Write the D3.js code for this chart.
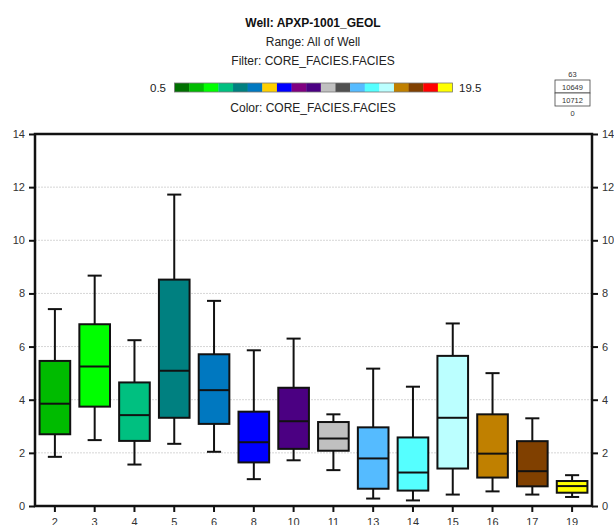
<!DOCTYPE html>
<html><head><meta charset="utf-8">
<script src="https://cdn.jsdelivr.net/npm/d3@7"></script>
<style>body{margin:0;background:#fff;}svg{display:block;font-family:"Liberation Sans",Arial,sans-serif;}</style>
</head><body><svg id="c" width="614" height="525"></svg>
<script>
const categories = ["2","3","4","5","6","8","10","11","13","14","15","16","17","19"];
const whiskerLow = [1.85,2.48,1.56,2.34,2.04,1.01,1.72,1.35,0.28,0.21,0.43,0.55,0.43,0.34];
const q1 =         [2.70,3.74,2.45,3.32,3.09,1.64,2.15,2.08,0.65,0.58,1.41,1.07,0.74,0.50];
const median =     [3.85,5.25,3.42,5.09,4.36,2.40,3.19,2.54,1.79,1.26,3.32,1.97,1.31,0.75];
const q3 =         [5.46,6.84,4.65,8.52,5.71,3.55,4.45,3.16,2.96,2.58,5.65,3.45,2.44,0.94];
const whiskerHigh =[7.41,8.67,6.24,11.72,7.72,5.86,6.30,3.45,5.17,4.49,6.87,5.00,3.30,1.16];
const yTicks = [0,2,4,6,8,10,12,14];
const faciesCodes = [1,2,3,4,5,6,7,8,9,10,11,12,13,14,15,16,17,18,19];
const faciesColors = ["#007000","#00bb00","#00ff00","#00c080","#008080","#0078c0","#ffd000","#0000ff","#800080","#4b0082","#c0c0c0","#505050","#55bbff","#55ffff","#bbffff","#c08000","#804000","#ff0000","#ffff00"];
const titleLines = ["Well: APXP-1001_GEOL","Range: All of Well","Filter: CORE_FACIES.FACIES"];
const colorLabel = "Color: CORE_FACIES.FACIES";
const barRange = ["0.5","19.5"];
const countBox = {top:"63", a:"10649", b:"10712", bottom:"0"};

const svg = d3.select("#c");
const L = 35, R = 592, T = 134, B = 506;
const x = d3.scaleBand().domain(categories).range([L,R]).paddingInner(0.23).paddingOuter(0.115);
const y = d3.scaleLinear().domain([0,14]).range([B,T]);
const color = d3.scaleOrdinal().domain(faciesCodes.map(String)).range(faciesColors);

// titles
const cx = 313;
svg.append("text").attr("x",cx).attr("y",27).attr("text-anchor","middle").attr("font-size",12).attr("font-weight","bold").attr("fill","#111").text(titleLines[0]);
svg.append("text").attr("x",cx).attr("y",46).attr("text-anchor","middle").attr("font-size",12).attr("fill","#222").text(titleLines[1]);
svg.append("text").attr("x",cx).attr("y",65).attr("text-anchor","middle").attr("font-size",12).attr("fill","#222").text(titleLines[2]);
svg.append("text").attr("x",cx).attr("y",112).attr("text-anchor","middle").attr("font-size",12).attr("fill","#222").text(colorLabel);

// color bar
const cb = d3.scaleBand().domain(faciesCodes.map(String)).range([174.5,452.5]);
svg.append("g").selectAll("rect").data(faciesCodes).join("rect")
  .attr("x",d=>cb(String(d))).attr("y",83).attr("width",cb.bandwidth()+0.3).attr("height",9)
  .attr("fill",d=>color(String(d)));
svg.append("rect").attr("x",174.5).attr("y",83).attr("width",278).attr("height",9).attr("fill","none").attr("stroke","#777").attr("stroke-width",0.8);
svg.append("text").attr("x",166).attr("y",92).attr("text-anchor","end").attr("font-size",11.5).attr("fill","#222").text(barRange[0]);
svg.append("text").attr("x",459).attr("y",92).attr("font-size",11.5).attr("fill","#222").text(barRange[1]);

// count box
const bx = 555, bw = 35;
svg.append("text").attr("x",bx+bw/2).attr("y",77).attr("text-anchor","middle").attr("font-size",7.5).attr("fill","#333").text(countBox.top);
svg.append("rect").attr("x",bx).attr("y",80).attr("width",bw).attr("height",13).attr("fill","#fff").attr("stroke","#444").attr("stroke-width",0.8);
svg.append("rect").attr("x",bx).attr("y",93).attr("width",bw).attr("height",13).attr("fill","#fff").attr("stroke","#444").attr("stroke-width",0.8);
svg.append("text").attr("x",bx+bw/2).attr("y",89.5).attr("text-anchor","middle").attr("font-size",7.5).attr("fill","#333").text(countBox.a);
svg.append("text").attr("x",bx+bw/2).attr("y",102.5).attr("text-anchor","middle").attr("font-size",7.5).attr("fill","#333").text(countBox.b);
svg.append("text").attr("x",bx+bw/2).attr("y",116).attr("text-anchor","middle").attr("font-size",7.5).attr("fill","#333").text(countBox.bottom);

// gridlines
svg.append("g").selectAll("line").data(yTicks.filter(d=>d>0&&d<14)).join("line")
  .attr("x1",L).attr("x2",R).attr("y1",d=>y(d)).attr("y2",d=>y(d))
  .attr("stroke","#d6d6d6").attr("stroke-width",1).attr("stroke-dasharray","2,1");

// boxes
const data = categories.map((c,i)=>({c,lo:whiskerLow[i],q1:q1[i],med:median[i],q3:q3[i],hi:whiskerHigh[i]}));
const g = svg.append("g").selectAll("g").data(data).join("g");
const bwid = x.bandwidth();
const cap = bwid*0.46;
g.append("line").attr("x1",d=>x(d.c)+bwid/2).attr("x2",d=>x(d.c)+bwid/2).attr("y1",d=>y(d.hi)).attr("y2",d=>y(d.q3)).attr("stroke","#111").attr("stroke-width",2);
g.append("line").attr("x1",d=>x(d.c)+bwid/2).attr("x2",d=>x(d.c)+bwid/2).attr("y1",d=>y(d.q1)).attr("y2",d=>y(d.lo)).attr("stroke","#111").attr("stroke-width",2);
g.append("line").attr("x1",d=>x(d.c)+bwid/2-cap/2).attr("x2",d=>x(d.c)+bwid/2+cap/2).attr("y1",d=>y(d.hi)).attr("y2",d=>y(d.hi)).attr("stroke","#111").attr("stroke-width",2);
g.append("line").attr("x1",d=>x(d.c)+bwid/2-cap/2).attr("x2",d=>x(d.c)+bwid/2+cap/2).attr("y1",d=>y(d.lo)).attr("y2",d=>y(d.lo)).attr("stroke","#111").attr("stroke-width",2);
g.append("rect").attr("x",d=>x(d.c)).attr("width",bwid).attr("y",d=>y(d.q3)).attr("height",d=>y(d.q1)-y(d.q3))
  .attr("fill",d=>color(d.c)).attr("stroke","#111").attr("stroke-width",2);
g.append("line").attr("x1",d=>x(d.c)).attr("x2",d=>x(d.c)+bwid).attr("y1",d=>y(d.med)).attr("y2",d=>y(d.med)).attr("stroke","#111").attr("stroke-width",2);

// axes
const axL = d3.axisLeft(y).tickValues(yTicks).tickSize(6).tickPadding(4);
const axR = d3.axisRight(y).tickValues(yTicks).tickSize(6).tickPadding(4);
const axB = d3.axisBottom(x).tickSize(6).tickPadding(6);
function style(sel){
  sel.select(".domain").remove();
  sel.selectAll(".tick line").attr("stroke","#111").attr("stroke-width",2);
  sel.selectAll(".tick text").attr("fill","#333").attr("font-size",11).attr("font-family","Liberation Sans, Arial, sans-serif");
}
svg.append("g").attr("transform",`translate(${L},0)`).call(axL).call(style);
svg.append("g").attr("transform",`translate(${R},0)`).call(axR).call(style);
svg.append("g").attr("transform",`translate(0,${B})`).call(axB).call(style);
// frame
svg.append("rect").attr("x",L).attr("y",T).attr("width",R-L).attr("height",B-T).attr("fill","none").attr("stroke","#111").attr("stroke-width",2.5);
</script></body></html>
